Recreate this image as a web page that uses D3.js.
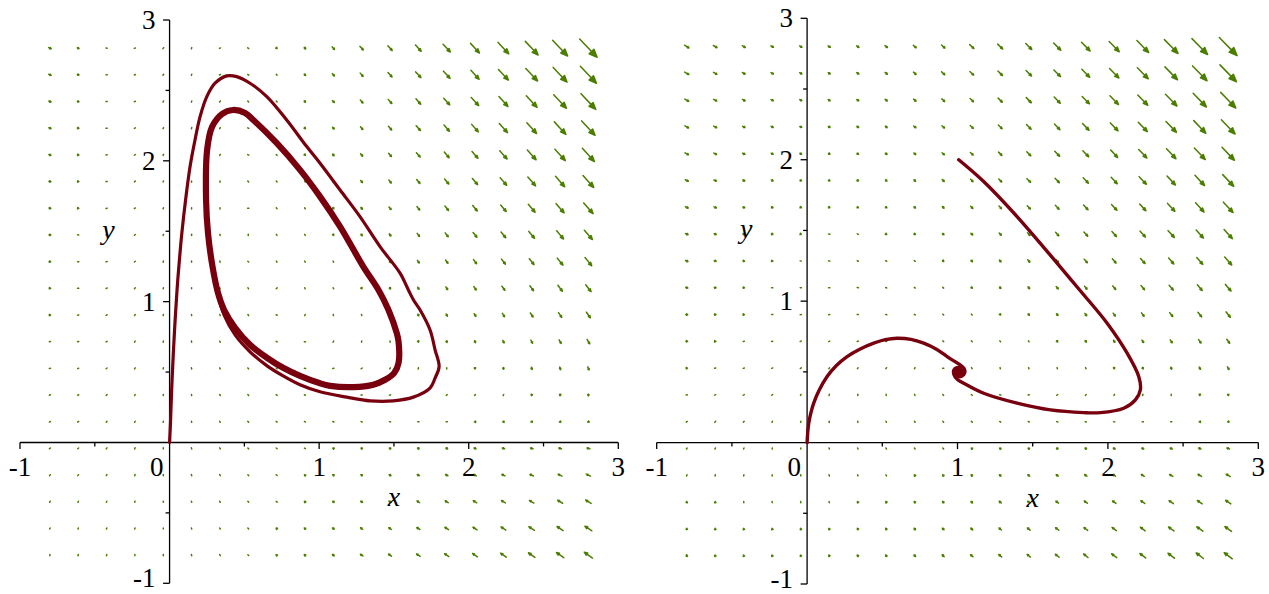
<!DOCTYPE html>
<html>
<head>
<meta charset="utf-8">
<script src="https://cdn.jsdelivr.net/npm/d3@7"></script>
<style>
  html, body { margin: 0; padding: 0; background: #ffffff; }
  svg { display: block; }
</style>
</head>
<body>
<svg id="chart" width="1269" height="594"></svg>
<script>
// ---- Direction-field grid (same grid on both panels) ----
const gridX = [-0.8, -0.611, -0.421, -0.232, -0.042, 0.147, 0.337, 0.526, 0.716, 0.905,
               1.095, 1.284, 1.474, 1.663, 1.853, 2.042, 2.232, 2.421, 2.611, 2.8];
const gridY = [2.8, 2.611, 2.421, 2.232, 2.042, 1.853, 1.663, 1.474, 1.284, 1.095,
               0.905, 0.716, 0.526, 0.337, 0.147, -0.042, -0.232, -0.421, -0.611, -0.8];

// ---- Left panel: field components (rows follow gridY, columns follow gridX) ----
const leftU = [
  [2.8,1.9,1.1,0.6,0.3,0.1,0.2,0.5,0.9,1.6,2.5,3.6,4.8,6.3,8.0,9.9,11.9,14.2,16.7,19.4],
  [2.7,1.8,1.1,0.6,0.3,0.1,0.2,0.4,0.8,1.4,2.2,3.2,4.4,5.8,7.3,9.1,11.0,13.1,15.4,17.9],
  [2.5,1.7,1.0,0.6,0.2,0.1,0.1,0.3,0.7,1.3,2.0,2.9,4.0,5.2,6.7,8.3,10.0,12.0,14.1,16.4],
  [2.4,1.6,1.0,0.5,0.2,0.1,0.1,0.3,0.6,1.1,1.8,2.6,3.6,4.7,6.0,7.4,9.1,10.8,12.8,14.9],
  [2.3,1.5,1.0,0.5,0.2,0.1,0.1,0.2,0.5,0.9,1.5,2.3,3.1,4.2,5.3,6.6,8.1,9.7,11.5,13.4],
  [2.1,1.5,0.9,0.5,0.2,0.0,0.0,0.1,0.4,0.8,1.3,1.9,2.7,3.6,4.7,5.8,7.2,8.6,10.2,11.9],
  [2.0,1.4,0.9,0.5,0.2,0.0,0.0,0.1,0.3,0.6,1.0,1.6,2.3,3.1,4.0,5.0,6.2,7.5,8.9,10.4],
  [1.9,1.3,0.8,0.4,0.2,0.0,-0.1,0.0,0.2,0.4,0.8,1.3,1.9,2.5,3.3,4.2,5.2,6.3,7.6,8.9],
  [1.7,1.2,0.8,0.4,0.1,0.0,-0.1,-0.1,0.1,0.3,0.6,0.9,1.4,2.0,2.7,3.4,4.3,5.2,6.3,7.4],
  [1.6,1.1,0.7,0.4,0.1,0.0,-0.1,-0.1,-0.1,0.1,0.3,0.6,1.0,1.5,2.0,2.6,3.3,4.1,4.9,5.9],
  [1.5,1.0,0.7,0.4,0.1,-0.1,-0.2,-0.2,-0.2,-0.1,0.1,0.3,0.6,0.9,1.3,1.8,2.4,3.0,3.6,4.4],
  [1.3,0.9,0.6,0.3,0.1,-0.1,-0.2,-0.3,-0.3,-0.3,-0.2,-0.1,0.1,0.4,0.7,1.0,1.4,1.8,2.3,2.9],
  [1.2,0.9,0.6,0.3,0.1,-0.1,-0.2,-0.3,-0.4,-0.4,-0.4,-0.4,-0.3,-0.2,0.0,0.2,0.4,0.7,1.0,1.4],
  [1.0,0.8,0.5,0.3,0.1,-0.1,-0.3,-0.4,-0.5,-0.6,-0.7,-0.7,-0.7,-0.7,-0.7,-0.6,-0.5,-0.4,-0.3,-0.1],
  [0.9,0.7,0.5,0.3,0.1,-0.1,-0.3,-0.5,-0.6,-0.8,-0.9,-1.0,-1.1,-1.3,-1.3,-1.4,-1.5,-1.6,-1.6,-1.6],
  [0.8,0.6,0.4,0.2,0.0,-0.2,-0.4,-0.5,-0.7,-0.9,-1.2,-1.4,-1.6,-1.8,-2.0,-2.2,-2.5,-2.7,-2.9,-3.1],
  [0.6,0.5,0.4,0.2,0.0,-0.2,-0.4,-0.6,-0.9,-1.1,-1.4,-1.7,-2.0,-2.3,-2.7,-3.0,-3.4,-3.8,-4.2,-4.6],
  [0.5,0.4,0.3,0.2,0.0,-0.2,-0.4,-0.7,-1.0,-1.3,-1.6,-2.0,-2.4,-2.9,-3.3,-3.8,-4.4,-4.9,-5.5,-6.1],
  [0.4,0.3,0.3,0.2,0.0,-0.2,-0.5,-0.7,-1.1,-1.5,-1.9,-2.3,-2.9,-3.4,-4.0,-4.6,-5.3,-6.1,-6.8,-7.6],
  [0.2,0.3,0.2,0.1,0.0,-0.2,-0.5,-0.8,-1.2,-1.6,-2.1,-2.7,-3.3,-3.9,-4.7,-5.4,-6.3,-7.2,-8.1,-9.1]
];
const leftV = [
  [-1.4,-0.7,-0.1,0.2,0.4,0.3,0.1,-0.4,-1.1,-1.9,-3.0,-4.2,-5.7,-7.4,-9.2,-11.3,-13.6,-16.0,-18.7,-21.6],
  [-1.3,-0.6,-0.1,0.3,0.4,0.3,0.1,-0.3,-1.0,-1.8,-2.7,-3.9,-5.3,-6.8,-8.6,-10.5,-12.6,-14.9,-17.4,-20.1],
  [-1.1,-0.5,0.0,0.3,0.4,0.4,0.1,-0.3,-0.8,-1.6,-2.5,-3.6,-4.9,-6.3,-7.9,-9.7,-11.7,-13.8,-16.1,-18.6],
  [-1.0,-0.4,0.0,0.3,0.4,0.4,0.2,-0.2,-0.7,-1.4,-2.3,-3.3,-4.4,-5.8,-7.2,-8.9,-10.7,-12.7,-14.8,-17.1],
  [-0.9,-0.3,0.1,0.3,0.4,0.4,0.2,-0.1,-0.6,-1.2,-2.0,-2.9,-4.0,-5.2,-6.6,-8.1,-9.7,-11.5,-13.5,-15.6],
  [-0.7,-0.2,0.1,0.4,0.5,0.4,0.2,-0.1,-0.5,-1.1,-1.8,-2.6,-3.6,-4.7,-5.9,-7.3,-8.8,-10.4,-12.2,-14.1],
  [-0.6,-0.2,0.2,0.4,0.5,0.4,0.3,0.0,-0.4,-0.9,-1.5,-2.3,-3.1,-4.1,-5.2,-6.5,-7.8,-9.3,-10.9,-12.6],
  [-0.5,-0.1,0.2,0.4,0.5,0.5,0.3,0.1,-0.3,-0.7,-1.3,-1.9,-2.7,-3.6,-4.6,-5.7,-6.9,-8.2,-9.6,-11.1],
  [-0.3,0.0,0.3,0.4,0.5,0.5,0.4,0.1,-0.2,-0.6,-1.0,-1.6,-2.3,-3.1,-3.9,-4.9,-5.9,-7.0,-8.3,-9.6],
  [-0.2,0.1,0.3,0.5,0.5,0.5,0.4,0.2,-0.1,-0.4,-0.8,-1.3,-1.9,-2.5,-3.2,-4.1,-4.9,-5.9,-7.0,-8.1],
  [0.0,0.2,0.4,0.5,0.5,0.5,0.4,0.3,0.1,-0.2,-0.6,-1.0,-1.4,-2.0,-2.6,-3.2,-4.0,-4.8,-5.6,-6.6],
  [0.1,0.3,0.4,0.5,0.5,0.5,0.5,0.3,0.2,0.0,-0.3,-0.6,-1.0,-1.4,-1.9,-2.4,-3.0,-3.7,-4.3,-5.1],
  [0.2,0.4,0.5,0.5,0.6,0.5,0.5,0.4,0.3,0.1,-0.1,-0.3,-0.6,-0.9,-1.2,-1.6,-2.1,-2.5,-3.0,-3.6],
  [0.4,0.4,0.5,0.6,0.6,0.6,0.5,0.5,0.4,0.3,0.2,0.0,-0.2,-0.4,-0.6,-0.8,-1.1,-1.4,-1.7,-2.1],
  [0.5,0.5,0.6,0.6,0.6,0.6,0.6,0.5,0.5,0.5,0.4,0.3,0.3,0.2,0.1,0.0,-0.1,-0.3,-0.4,-0.6],
  [0.6,0.6,0.6,0.6,0.6,0.6,0.6,0.6,0.6,0.6,0.7,0.7,0.7,0.7,0.8,0.8,0.8,0.9,0.9,0.9],
  [0.8,0.7,0.7,0.6,0.6,0.6,0.7,0.7,0.7,0.8,0.9,1.0,1.1,1.3,1.4,1.6,1.8,2.0,2.2,2.4],
  [0.9,0.8,0.7,0.7,0.6,0.6,0.7,0.8,0.9,1.0,1.1,1.3,1.6,1.8,2.1,2.4,2.7,3.1,3.5,3.9],
  [1.0,0.9,0.8,0.7,0.7,0.7,0.7,0.8,1.0,1.2,1.4,1.7,2.0,2.3,2.8,3.2,3.7,4.2,4.8,5.4],
  [1.2,1.0,0.8,0.7,0.7,0.7,0.8,0.9,1.1,1.3,1.6,2.0,2.4,2.9,3.4,4.0,4.7,5.4,6.1,6.9]
];

// ---- Right panel: field components ----
const rightU = [
  [5.4,4.5,3.7,3.2,2.9,2.7,2.8,3.1,3.5,4.2,5.1,6.1,7.4,8.9,10.6,12.4,14.5,16.8,19.3,22.0],
  [5.1,4.2,3.5,3.0,2.7,2.5,2.6,2.8,3.2,3.8,4.7,5.6,6.8,8.2,9.7,11.5,13.4,15.5,17.8,20.3],
  [4.8,3.9,3.3,2.8,2.5,2.3,2.4,2.6,3.0,3.5,4.2,5.1,6.2,7.5,8.9,10.5,12.3,14.2,16.3,18.6],
  [4.5,3.7,3.0,2.6,2.3,2.1,2.2,2.3,2.7,3.2,3.8,4.6,5.6,6.7,8.0,9.5,11.1,12.9,14.8,16.9],
  [4.2,3.4,2.8,2.4,2.1,1.9,1.9,2.1,2.4,2.8,3.4,4.1,5.0,6.0,7.2,8.5,10.0,11.6,13.4,15.3],
  [3.8,3.2,2.6,2.2,1.9,1.8,1.7,1.8,2.1,2.5,3.0,3.6,4.4,5.3,6.4,7.5,8.9,10.3,11.9,13.6],
  [3.5,2.9,2.4,2.0,1.7,1.6,1.5,1.6,1.8,2.1,2.6,3.1,3.8,4.6,5.5,6.6,7.7,9.0,10.4,11.9],
  [3.2,2.6,2.2,1.8,1.5,1.4,1.3,1.4,1.5,1.8,2.2,2.6,3.2,3.9,4.7,5.6,6.6,7.7,8.9,10.2],
  [2.9,2.4,1.9,1.6,1.3,1.2,1.1,1.1,1.2,1.4,1.7,2.1,2.6,3.2,3.8,4.6,5.5,6.4,7.4,8.6],
  [2.6,2.1,1.7,1.4,1.1,1.0,0.9,0.9,0.9,1.1,1.3,1.6,2.0,2.5,3.0,3.6,4.3,5.1,6.0,6.9],
  [2.3,1.9,1.5,1.2,1.0,0.8,0.7,0.6,0.7,0.7,0.9,1.1,1.4,1.8,2.2,2.6,3.2,3.8,4.5,5.2],
  [2.0,1.6,1.3,1.0,0.8,0.6,0.5,0.4,0.4,0.4,0.5,0.6,0.8,1.0,1.3,1.7,2.1,2.5,3.0,3.5],
  [1.7,1.3,1.0,0.8,0.6,0.4,0.3,0.2,0.1,0.1,0.1,0.1,0.2,0.3,0.5,0.7,0.9,1.2,1.5,1.9],
  [1.4,1.1,0.8,0.6,0.4,0.2,0.0,-0.1,-0.2,-0.3,-0.4,-0.4,-0.4,-0.4,-0.4,-0.3,-0.2,-0.1,0.0,0.2],
  [1.0,0.8,0.6,0.4,0.2,0.0,-0.2,-0.3,-0.5,-0.6,-0.8,-0.9,-1.0,-1.1,-1.2,-1.3,-1.4,-1.4,-1.5,-1.5],
  [0.7,0.6,0.4,0.2,0.0,-0.2,-0.4,-0.6,-0.8,-1.0,-1.2,-1.4,-1.6,-1.8,-2.0,-2.3,-2.5,-2.7,-2.9,-3.2],
  [0.4,0.3,0.2,0.0,-0.2,-0.4,-0.6,-0.8,-1.1,-1.3,-1.6,-1.9,-2.2,-2.5,-2.9,-3.2,-3.6,-4.0,-4.4,-4.9],
  [0.1,0.0,-0.1,-0.2,-0.4,-0.6,-0.8,-1.1,-1.4,-1.7,-2.0,-2.4,-2.8,-3.3,-3.7,-4.2,-4.8,-5.3,-5.9,-6.5],
  [-0.2,-0.2,-0.3,-0.4,-0.6,-0.8,-1.0,-1.3,-1.6,-2.0,-2.4,-2.9,-3.4,-4.0,-4.6,-5.2,-5.9,-6.6,-7.4,-8.2],
  [-0.5,-0.5,-0.5,-0.6,-0.8,-1.0,-1.2,-1.6,-1.9,-2.4,-2.9,-3.4,-4.0,-4.7,-5.4,-6.2,-7.0,-7.9,-8.9,-9.9]
];
const rightV = [
  [-3.6,-2.8,-2.3,-2.0,-1.8,-1.9,-2.1,-2.6,-3.2,-4.1,-5.2,-6.4,-7.9,-9.5,-11.4,-13.5,-15.8,-18.2,-20.9,-23.8],
  [-3.3,-2.6,-2.1,-1.8,-1.6,-1.7,-1.9,-2.3,-3.0,-3.8,-4.7,-5.9,-7.3,-8.8,-10.6,-12.5,-14.6,-16.9,-19.4,-22.1],
  [-3.0,-2.3,-1.9,-1.6,-1.4,-1.5,-1.7,-2.1,-2.7,-3.4,-4.3,-5.4,-6.7,-8.1,-9.7,-11.5,-13.5,-15.6,-17.9,-20.4],
  [-2.7,-2.1,-1.6,-1.4,-1.2,-1.3,-1.5,-1.9,-2.4,-3.1,-3.9,-4.9,-6.1,-7.4,-8.9,-10.5,-12.4,-14.3,-16.5,-18.7],
  [-2.4,-1.8,-1.4,-1.2,-1.0,-1.1,-1.3,-1.6,-2.1,-2.7,-3.5,-4.4,-5.5,-6.7,-8.1,-9.6,-11.2,-13.0,-15.0,-17.1],
  [-2.0,-1.5,-1.2,-1.0,-0.9,-0.9,-1.1,-1.4,-1.8,-2.4,-3.1,-3.9,-4.9,-6.0,-7.2,-8.6,-10.1,-11.7,-13.5,-15.4],
  [-1.7,-1.3,-1.0,-0.8,-0.7,-0.7,-0.9,-1.1,-1.5,-2.0,-2.7,-3.4,-4.3,-5.3,-6.4,-7.6,-9.0,-10.4,-12.0,-13.7],
  [-1.4,-1.0,-0.7,-0.6,-0.5,-0.5,-0.6,-0.9,-1.2,-1.7,-2.2,-2.9,-3.7,-4.6,-5.5,-6.6,-7.8,-9.1,-10.5,-12.0],
  [-1.1,-0.8,-0.5,-0.4,-0.3,-0.3,-0.4,-0.6,-0.9,-1.3,-1.8,-2.4,-3.1,-3.8,-4.7,-5.6,-6.7,-7.8,-9.0,-10.4],
  [-0.8,-0.5,-0.3,-0.2,-0.1,-0.1,-0.2,-0.4,-0.7,-1.0,-1.4,-1.9,-2.5,-3.1,-3.9,-4.7,-5.6,-6.5,-7.6,-8.7],
  [-0.5,-0.2,-0.1,0.0,0.1,0.1,0.0,-0.2,-0.4,-0.6,-1.0,-1.4,-1.9,-2.4,-3.0,-3.7,-4.4,-5.2,-6.1,-7.0],
  [-0.2,0.0,0.2,0.2,0.3,0.3,0.2,0.1,-0.1,-0.3,-0.6,-0.9,-1.3,-1.7,-2.2,-2.7,-3.3,-3.9,-4.6,-5.3],
  [0.1,0.3,0.4,0.4,0.5,0.5,0.4,0.3,0.2,0.0,-0.2,-0.4,-0.7,-1.0,-1.3,-1.7,-2.1,-2.6,-3.1,-3.6],
  [0.4,0.5,0.6,0.6,0.7,0.7,0.6,0.6,0.5,0.4,0.3,0.1,-0.1,-0.3,-0.5,-0.7,-1.0,-1.3,-1.6,-2.0],
  [0.8,0.8,0.8,0.8,0.9,0.9,0.8,0.8,0.8,0.7,0.7,0.6,0.5,0.4,0.3,0.2,0.1,0.0,-0.1,-0.3],
  [1.1,1.1,1.0,1.0,1.0,1.0,1.0,1.1,1.1,1.1,1.1,1.1,1.1,1.2,1.2,1.2,1.3,1.3,1.3,1.4],
  [1.4,1.3,1.3,1.2,1.2,1.2,1.3,1.3,1.4,1.4,1.5,1.6,1.7,1.9,2.0,2.2,2.4,2.6,2.8,3.0],
  [1.7,1.6,1.5,1.4,1.4,1.4,1.5,1.5,1.6,1.8,1.9,2.1,2.3,2.6,2.9,3.2,3.5,3.9,4.3,4.7],
  [2.0,1.8,1.7,1.6,1.6,1.6,1.7,1.8,1.9,2.1,2.3,2.6,2.9,3.3,3.7,4.2,4.7,5.2,5.8,6.4],
  [2.3,2.1,1.9,1.8,1.8,1.8,1.9,2.0,2.2,2.5,2.8,3.1,3.5,4.0,4.6,5.1,5.8,6.5,7.3,8.1]
];

// ---- Solution curves [x, y] ----
// Left: orbit leaving the origin and winding onto the closed cycle
const leftTransient = [
  [0,0],[0.006,0.138],[0.014,0.374],[0.024,0.610],[0.036,0.847],[0.050,1.084],
  [0.062,1.249],[0.082,1.486],[0.107,1.722],[0.137,1.959],[0.170,2.148],[0.204,2.314],
  [0.249,2.456],[0.304,2.551],[0.382,2.603],[0.449,2.598],[0.538,2.551],[0.650,2.456],
  [0.783,2.290],[0.917,2.101],[1.006,1.983],[1.140,1.793],[1.273,1.604],[1.407,1.391],
  [1.541,1.202],[1.596,1.084],[1.630,1.013],[1.674,0.942],[1.741,0.800],[1.775,0.658],
  [1.802,0.539],[1.775,0.457],[1.741,0.386],[1.630,0.322],[1.496,0.296],[1.340,0.296],
  [1.185,0.322],[1.006,0.360],[0.872,0.410],[0.759,0.473],[0.652,0.544],[0.538,0.644],
  [0.438,0.764],[0.364,0.906],[0.318,1.070]
];
const leftCycle = [
  [0.424,2.361],[0.505,2.340],[0.560,2.290],[0.717,2.125],[0.872,1.936],[1.006,1.746],
  [1.140,1.533],[1.295,1.249],[1.396,1.084],[1.463,0.942],[1.519,0.776],[1.531,0.715],
  [1.531,0.566],[1.501,0.493],[1.441,0.445],[1.362,0.410],[1.229,0.393],[1.073,0.402],
  [1.006,0.420],[0.872,0.473],[0.759,0.530],[0.652,0.601],[0.538,0.693],[0.438,0.814],
  [0.364,0.942],[0.324,1.060],[0.287,1.249],[0.257,1.486],[0.244,1.722],[0.251,2.077],
  [0.284,2.241],[0.351,2.333]
];
// Right: two orbits spiralling into the rest point near (1, 0.5)
const rightFromOrigin = [
  [0,0],[0.004,0.070],[0.011,0.137],[0.025,0.210],[0.044,0.279],[0.080,0.370],
  [0.133,0.467],[0.195,0.545],[0.266,0.608],[0.350,0.660],[0.443,0.703],[0.520,0.728],
  [0.598,0.738],[0.690,0.730],[0.775,0.703],[0.860,0.660],[0.931,0.608],[0.975,0.578],
  [1.015,0.552],[1.045,0.522],[1.048,0.492],[1.028,0.470],[0.998,0.468],[0.976,0.485],
  [0.975,0.512],[0.995,0.530],[1.020,0.525],[1.030,0.503],[1.018,0.484],[0.998,0.486],
  [0.990,0.502],[1.002,0.512],[1.010,0.502]
];
const rightFromTop = [
  [1.008,2.000],[1.174,1.846],[1.396,1.598],[1.662,1.269],[1.808,1.084],
  [1.995,0.844],[2.128,0.632],[2.205,0.467],[2.216,0.373],[2.183,0.302],[2.105,0.243],
  [1.950,0.212],[1.839,0.212],[1.618,0.231],[1.396,0.279],[1.174,0.349],[1.041,0.420],
  [0.998,0.448],[0.978,0.478],[0.982,0.510],[1.003,0.525],[1.022,0.515],[1.025,0.495],
  [1.010,0.484],[0.995,0.492],[0.996,0.508],[1.008,0.505]
];

// ---- Axis ticks ----
const xTickValues = [-1, 0, 1, 2, 3];
const xTickLabels = ["-1", "0", "1", "2", "3"];
const yTickValues = [-1, 1, 2, 3];
const yTickLabels = ["-1", "1", "2", "3"];
const minorTicks = [-0.5, 0.5, 1.5, 2.5];

// ---- Drawing ----
const svg = d3.select("#chart");
const FIELD_COLOR = "#4b7d00";
const CURVE_COLOR = "#78000e";
const FONT = "'Liberation Serif', 'Times New Roman', serif";

const panels = [
  { xr: [20, 618.3], yr: [583.3, 20], U: leftU, V: leftV,
    curves: [ { pts: leftTransient, w: 3.2, closed: false },
              { pts: leftCycle, w: 6.2, closed: true } ] },
  { xr: [656.7, 1258.3], yr: [584, 18.3], U: rightU, V: rightV,
    curves: [ { pts: rightFromOrigin, w: 3.4, closed: false },
              { pts: rightFromTop, w: 3.4, closed: false } ] }
];

panels.forEach(p => {
  const x = d3.scaleLinear().domain([-1, 3]).range(p.xr);
  const y = d3.scaleLinear().domain([-1, 3]).range(p.yr);
  const g = svg.append("g");

  // direction field: arrows centred on the grid points, length proportional to |(u,v)|
  const cells = [];
  gridY.forEach((gy, r) => gridX.forEach((gx, c) =>
    cells.push({ gx, gy, u: p.U[r][c], v: p.V[r][c] })));
  const maxMag = d3.max(cells, d => Math.hypot(d.u, d.v));
  const k = 0.175 / maxMag; // longest arrow spans 0.175 axis units

  const arrowPath = d => {
    const x0 = x(d.gx - k * d.u / 2), y0 = y(d.gy - k * d.v / 2);
    const x1 = x(d.gx + k * d.u / 2), y1 = y(d.gy + k * d.v / 2);
    const dx = x1 - x0, dy = y1 - y0, L = Math.hypot(dx, dy);
    if (L < 1.2) {
      const ux = L > 0 ? dx / L : 1, uy = L > 0 ? dy / L : 0;
      const cx = (x0 + x1) / 2, cy = (y0 + y1) / 2;
      return `M${cx - ux * 0.6},${cy - uy * 0.6}L${cx + ux * 0.6},${cy + uy * 0.6}`;
    }
    const ux = dx / L, uy = dy / L;
    const h = Math.max(0.32 * L, 1.2), w = Math.max(0.13 * L, 0.7);
    const bx = x1 - ux * h, by = y1 - uy * h;
    return `M${x0},${y0}L${bx},${by}` +
           `M${x1},${y1}L${bx - uy * w},${by + ux * w}L${bx + uy * w},${by - ux * w}Z`;
  };

  g.append("g")
    .selectAll("path")
    .data(cells)
    .join("path")
    .attr("d", arrowPath)
    .attr("fill", FIELD_COLOR)
    .attr("stroke", FIELD_COLOR)
    .attr("stroke-width", 1.5)
    .attr("stroke-linecap", "round")
    .attr("stroke-linejoin", "round");

  // axes
  const ax = g.append("g").attr("stroke", "#000").attr("stroke-width", 1.3).attr("fill", "none");
  ax.append("line").attr("x1", x(-1)).attr("x2", x(3)).attr("y1", y(0)).attr("y2", y(0));
  ax.append("line").attr("x1", x(0)).attr("x2", x(0)).attr("y1", y(-1)).attr("y2", y(3));
  ax.selectAll(".xmaj").data(xTickValues.filter(v => v !== 0)).join("line")
    .attr("x1", d => x(d)).attr("x2", d => x(d)).attr("y1", y(0)).attr("y2", y(0) + 6.5);
  ax.selectAll(".xmin").data(minorTicks).join("line")
    .attr("x1", d => x(d)).attr("x2", d => x(d)).attr("y1", y(0)).attr("y2", y(0) + 4);
  ax.selectAll(".ymaj").data(yTickValues).join("line")
    .attr("x1", x(0) - 6.5).attr("x2", x(0)).attr("y1", d => y(d)).attr("y2", d => y(d));
  ax.selectAll(".ymin").data(minorTicks).join("line")
    .attr("x1", x(0) - 4).attr("x2", x(0)).attr("y1", d => y(d)).attr("y2", d => y(d));

  // tick labels (the lowest y label is lifted a little so it stays inside the frame)
  const tl = g.append("g").attr("font-family", FONT).attr("font-size", 27).attr("fill", "#000");
  tl.selectAll(".xl").data(xTickValues).join("text")
    .attr("x", d => d === 0 ? x(0) - 6 : x(d))
    .attr("y", y(0) + 33.5)
    .attr("text-anchor", d => d === 0 ? "end" : "middle")
    .text((d, i) => xTickLabels[i]);
  tl.selectAll(".yl").data(yTickValues).join("text")
    .attr("x", x(0) - 14)
    .attr("y", d => y(d) + (d === -1 ? 4 : 9))
    .attr("text-anchor", "end")
    .text((d, i) => yTickLabels[i]);

  // axis names
  const an = g.append("g").attr("font-family", FONT).attr("font-size", 28)
    .attr("font-style", "italic").attr("fill", "#000").attr("text-anchor", "middle");
  an.append("text").attr("x", x(1.5)).attr("y", y(0) + 64).text("x");
  an.append("text").attr("x", x(0) - 61).attr("y", y(1.5) + 8).text("y");

  // solution curves
  p.curves.forEach(cv => {
    const line = d3.line()
      .x(d => x(d[0])).y(d => y(d[1]))
      .curve(cv.closed ? d3.curveCatmullRomClosed.alpha(0.5) : d3.curveCatmullRom.alpha(0.5));
    g.append("path")
      .datum(cv.pts)
      .attr("d", line)
      .attr("fill", "none")
      .attr("stroke", CURVE_COLOR)
      .attr("stroke-width", cv.w)
      .attr("stroke-linejoin", "round")
      .attr("stroke-linecap", "round");
  });
});
</script>
</body>
</html>
